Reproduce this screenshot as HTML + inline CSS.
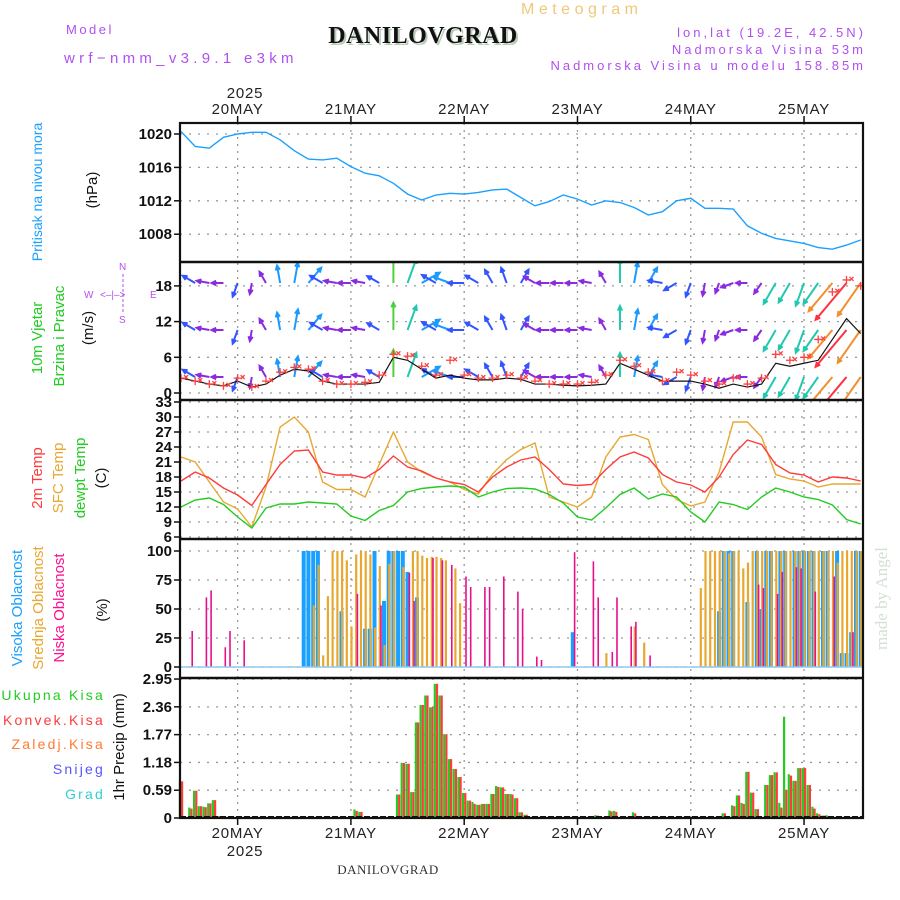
<!DOCTYPE html>
<html><head><meta charset="utf-8">
<style>
html,body{margin:0;padding:0;background:#fff;}
svg{display:block;font-family:"Liberation Sans",sans-serif;}
.tk{font-size:15px;font-weight:bold;fill:#111;text-anchor:end;}
.day{font-size:15px;fill:#222;text-anchor:middle;letter-spacing:0.8px;}
.pl{font-size:13px;fill:#b050f0;letter-spacing:3px;}
</style></head>
<body>
<svg id="chart" width="900" height="900" viewBox="0 0 900 900" xmlns="http://www.w3.org/2000/svg">
<defs>
<clipPath id="cw"><rect x="181" y="263" width="681" height="136"/></clipPath>
<clipPath id="cp"><rect x="181" y="124" width="681" height="137"/></clipPath>
</defs>
<text x="66" y="34" class="pl" style="font-size:13px;letter-spacing:2.5px">Model</text>
<text x="64" y="63" class="pl" style="font-size:15px;letter-spacing:4.3px">wrf−nmm_v3.9.1 e3km</text>
<text x="521" y="14" style="font-size:16px;fill:#f0c878;letter-spacing:4.5px">Meteogram</text>
<text x="425" y="45" text-anchor="middle" style="font-family:'Liberation Serif',serif;font-size:24px;font-weight:bold;fill:#b8ccb8;letter-spacing:0.5px">DANILOVGRAD</text>
<text x="423" y="43" text-anchor="middle" style="font-family:'Liberation Serif',serif;font-size:24px;font-weight:bold;fill:#111;letter-spacing:0.5px">DANILOVGRAD</text>
<text x="866" y="37" text-anchor="end" class="pl">lon,lat (19.2E, 42.5N)</text>
<text x="866" y="54" text-anchor="end" class="pl">Nadmorska Visina 53m</text>
<text x="866" y="70" text-anchor="end" class="pl">Nadmorska Visina u modelu 158.85m</text>
<text x="245" y="98" class="day">2025</text>
<text x="245" y="856" class="day">2025</text>
<text x="388" y="874" text-anchor="middle" style="font-family:'Liberation Serif',serif;font-size:13px;fill:#333;letter-spacing:0.5px">DANILOVGRAD</text>
<text transform="translate(887,650) rotate(-90)" style="font-family:'Liberation Serif',serif;font-size:17px;fill:#d4e0d4">made by Angel</text>

<text transform="translate(42,192) rotate(-90)" text-anchor="middle" style="font-size:14px;fill:#1aa0ff">Pritisak na nivou mora</text>
<text transform="translate(97,190) rotate(-90)" text-anchor="middle" style="font-size:15px;fill:#111">(hPa)</text>

<text transform="translate(42,338) rotate(-90)" text-anchor="middle" style="font-size:15px;fill:#22cc22">10m Vjetar</text>
<text transform="translate(64,336) rotate(-90)" text-anchor="middle" style="font-size:15px;fill:#22cc22">Brzina i Pravac</text>
<text transform="translate(93,328) rotate(-90)" text-anchor="middle" style="font-size:15px;fill:#111">(m/s)</text>
<g style="font-size:10px;fill:#b050f0">
<text x="119" y="270">N</text><text x="84" y="298">W</text><text x="100" y="298">&lt;–|–&gt;</text><text x="150" y="298">E</text><text x="119" y="323">S</text>
<line x1="123" y1="274" x2="123" y2="314" stroke="#b050f0" stroke-width="1" stroke-dasharray="3,2"/>
</g>

<text transform="translate(42,478) rotate(-90)" text-anchor="middle" style="font-size:15px;fill:#ff3b3b">2m Temp</text>
<text transform="translate(63,478) rotate(-90)" text-anchor="middle" style="font-size:15px;fill:#e8a830">SFC Temp</text>
<text transform="translate(85,478) rotate(-90)" text-anchor="middle" style="font-size:15px;fill:#22cc22">dewpt Temp</text>
<text transform="translate(106,478) rotate(-90)" text-anchor="middle" style="font-size:15px;fill:#111">(C)</text>

<text transform="translate(22,608) rotate(-90)" text-anchor="middle" style="font-size:15px;fill:#1aa0ff">Visoka Oblacnost</text>
<text transform="translate(43,608) rotate(-90)" text-anchor="middle" style="font-size:15px;fill:#e8a830">Srednja Oblacnost</text>
<text transform="translate(64,608) rotate(-90)" text-anchor="middle" style="font-size:15px;fill:#ff1090">Niska Oblacnost</text>
<text transform="translate(107,610) rotate(-90)" text-anchor="middle" style="font-size:15px;fill:#111">(%)</text>

<g style="font-size:14px;letter-spacing:2.2px" text-anchor="end">
<text x="105" y="700" fill="#22cc22">Ukupna Kisa</text>
<text x="105" y="725" fill="#ff3b3b">Konvek.Kisa</text>
<text x="105" y="749" fill="#ff7a30">Zaledj.Kisa</text>
<text x="105" y="774" fill="#5555ff">Snijeg</text>
<text x="105" y="799" fill="#30d0d0">Grad</text>
</g>
<text transform="translate(124,747) rotate(-90)" text-anchor="middle" style="font-size:15px;fill:#111">1hr Precip (mm)</text>

<g id="grid"></g>
<g id="marks"></g>
<g id="frame"></g>
</svg>
<script>
// ---------- data ----------
const dayLabels = ["20MAY","21MAY","22MAY","23MAY","24MAY","25MAY"];
const dayHours = [12,36,60,84,108,132];
const hours3 = [0,3,6,9,12,15,18,21,24,27,30,33,36,39,42,45,48,51,54,57,60,63,66,69,72,75,78,81,84,87,90,93,96,99,102,105,108,111,114,117,120,123,126,129,132,135,138,141,144];
const pressure = [1020.3,1018.5,1018.3,1019.6,1020,1020.2,1020.2,1019.3,1018,1017.0,1016.9,1017.1,1016.1,1015.3,1015,1014.1,1012.8,1012.1,1012.7,1012.9,1012.8,1013.0,1013.3,1013.4,1012.4,1011.4,1011.9,1012.7,1012.2,1011.5,1012.0,1011.8,1011.2,1010.3,1010.7,1012.0,1012.3,1011.1,1011.1,1011.0,1009.0,1008.1,1007.5,1007.2,1006.9,1006.4,1006.2,1006.7,1007.3];
const pressureTicks = [1008,1012,1016,1020];
const temp2m = [17.2,19,17.8,15.8,14.4,12.3,16.5,20.5,23.2,23.4,19,18.4,18.4,17.8,19.5,22.2,20,19.2,17.8,17,16.5,15,18,20,21.4,22,19.5,16.6,16.3,16.5,19.5,22,23,21.8,18.5,17,16.4,15,18,22.5,25.4,24.5,20.5,18.8,18.4,17,18,17.8,17.2];
const tempSfc = [22,21,17,13,11.6,8,16,28,30,27,17,15.5,15.5,14,20.5,27,21,19,17.8,17,15.5,14.6,18.6,21.5,23.5,24.8,14,13,12,14,22,26,26.5,25.5,16.5,13.5,12.2,13,19,29,29,26,18.5,17.6,17.2,16,16.6,16.6,16.6];
const dewpt = [12,13.4,13.8,12.5,10,7.8,11.8,12.6,12.6,13,12.8,12.6,10.2,9.3,11.3,12.3,15,15.7,16,16.2,16,14,15,15.7,15.8,15.6,14.5,12.8,10,9.4,11.8,14.5,15.8,13.6,14.6,14,11,9,13,12.5,11.5,14,15.8,15,14,13.5,12.4,9.5,8.6];
const tempTicks = [6,9,12,15,18,21,24,27,30,33];
const windSpeed = [2.5,2,1.5,1.2,2,1,1.5,3,4,3.7,2,1.5,1.5,1.5,1.8,6,5.5,4,2.5,3,2.5,2.2,2.2,2.5,2.3,1.5,1.5,1.3,1.2,1.3,1.5,5,4,3,2,2,2,1.5,0.8,1.5,1,1.5,5,4.5,5,5.5,9,12.5,10];
const windGust = [2.5,2,1.5,1.2,2.5,1,2,3.5,4.3,4,2,1.5,1.5,1.8,3,6.5,6.2,4.5,3,5.5,3,2.5,2.5,3,2.5,2,1.5,1.5,1.5,1.8,3,5.5,4.5,3.5,2,3.5,3,2,1.5,2.5,1.5,2.5,6.5,5.5,6,9,17,19,18];
const windDir = [315,300,280,270,200,190,330,350,10,40,300,280,270,280,300,0,20,60,300,290,270,300,330,340,30,300,270,270,270,280,330,0,10,30,280,240,200,190,200,250,270,215,210,210,200,215,220,220,215];
const windTicks = [0,6,12,18];
const cloudTicks = [0,25,50,75,100];
const highHours = [26,27,28,29,34,39,40,41,43,44,45,46,47,48,50,83,114,115,116,117,120,122,123,124,125,127,128,130,131,132,133,134,136,137,139,140,141,142,143,144];
const highVals = [100,100,100,100,48,33,33,100,57,100,100,100,100,82,60,30,48,100,100,100,56,100,50,100,100,100,100,100,100,100,100,100,100,100,100,12,12,30,100,100];
const midHours = [28,29,30,31,32,33,34,35,36,37,38,39,40,41,42,43,44,45,47,49,50,51,52,53,54,55,56,58,59,90,96,98,110,111,112,113,114,115,116,117,118,119,120,121,122,123,124,125,126,127,128,129,130,131,132,133,134,135,136,137,138,139,140,141,142,143,144];
const midVals = [53,88,10,61,100,100,100,92,35,97,100,100,97,34,87,19,89,100,86,100,100,96,94,95,95,94,92,85,55,12,35,21,68,100,100,100,100,100,98,100,100,85,90,100,100,100,100,100,100,100,100,100,100,100,100,100,100,100,100,100,100,90,100,100,100,100,100];
const lowHours = [2,5,6,9,10,13,37,42,48,49,53,55,57,60,61,64,65,68,71,72,75,76,83,87,88,91,92,95,96,99,122,123,126,127,130,131,134,138,142];
const lowVals = [31,60,66,17,31,23,63,53,81,57,94,92,88,78,69,69,69,78,65,50,9,6,99,91,60,13,60,35,39,10,71,68,63,82,86,85,65,78,30];
const precipHours = [0,2,3,4,5,6,7,8,36,37,38,46,47,48,49,50,51,52,53,54,55,56,57,58,59,60,61,62,63,64,65,66,67,68,69,70,71,72,73,74,88,91,92,95,96,98,115,117,118,119,120,121,122,123,124,125,126,127,128,129,130,131,132,133,134,135,136,137];
const precipTotal = [0.78,0.22,0.58,0.25,0.24,0.31,0.38,0.04,0.03,0.18,0.13,0.5,1.17,1.15,0.55,2.03,2.4,2.6,2.35,2.85,2.6,1.78,1.25,1.04,0.87,0.53,0.37,0.34,0.28,0.3,0.3,0.51,0.68,0.65,0.51,0.51,0.42,0.12,0.07,0.02,0.06,0.16,0.15,0.03,0.12,0.02,0.1,0.27,0.48,0.32,0.98,0.54,0.19,0.02,0.7,0.91,0.97,0.32,2.15,0.93,0.79,1.06,1.06,0.7,0.24,0.1,0.05,0.06];
const precipConv = [0.78,0.2,0.58,0.25,0.23,0.31,0.38,0.04,0.02,0.15,0.13,0.5,1.17,1.15,0.55,2.03,2.4,2.6,2.35,2.85,2.6,1.78,1.25,1.04,0.87,0.53,0.37,0.3,0.28,0.3,0.3,0.51,0.66,0.65,0.51,0.5,0.42,0.12,0.07,0.02,0.05,0.14,0.13,0.03,0.1,0.02,0.1,0.25,0.48,0.3,0.98,0.54,0.19,0.02,0.7,0.91,0.97,0.22,0.6,0.9,0.79,1.06,1.06,0.7,0.2,0.08,0.05,0.04];
const precipTicks = [0,0.59,1.18,1.77,2.36,2.95];

// ---------- axes ----------
const NS = "http://www.w3.org/2000/svg";
const X0 = 180, X1 = 863;
const xOf = h => 181 + h * 4.72;
const yP = p => 134 + (1020 - p) * 8.35;
const yW = s => 393 - s * 5.95;
const yT = t => 537 - (t - 6) * 5;
const yC = c => 667 - c * 1.16;
const yR = v => 818 - v * 47.1;
const panels = [[123,262],[262,400],[400,539],[539,678],[678,818]];

function el(tag, parent) { const e = document.createElementNS(NS, tag); parent.appendChild(e); return e; }
const grid = document.getElementById('grid');
const marks = document.getElementById('marks');
const frame = document.getElementById('frame');

function hgrid(y, name) {
  const l = el('line', grid);
  l.setAttribute('x1', X0); l.setAttribute('x2', X1); l.setAttribute('y1', y); l.setAttribute('y2', y);
  l.setAttribute('stroke', '#999'); l.setAttribute('stroke-width', '1.3'); l.setAttribute('stroke-dasharray', '2,7');
  
  
}
function tickLabel(y, txt, name) {
  const t = el('text', grid);
  t.setAttribute('x', 172); t.setAttribute('y', y + 5); t.setAttribute('class', 'tk'); t.textContent = txt;
  
  
  const k = el('line', grid);
  k.setAttribute('x1', 174); k.setAttribute('x2', 180); k.setAttribute('y1', y); k.setAttribute('y2', y); k.setAttribute('stroke', '#111'); k.setAttribute('stroke-width', '1.5');
  
  
}
pressureTicks.forEach(p => { hgrid(yP(p), 'pressure-gridline'); tickLabel(yP(p), String(p), 'pressure-tick-label'); });
windTicks.forEach(s => { hgrid(yW(s), 'wind-gridline'); tickLabel(yW(s), String(s), 'wind-tick-label'); });
tempTicks.forEach(t => { hgrid(yT(t), 'temp-gridline'); tickLabel(yT(t), String(t), 'temp-tick-label'); });
cloudTicks.forEach(c => { hgrid(yC(c), 'cloud-gridline'); tickLabel(yC(c), String(c), 'cloud-tick-label'); });
precipTicks.forEach(v => { hgrid(yR(v), 'precip-gridline'); tickLabel(yR(v), String(v), 'precip-tick-label'); });

dayHours.forEach((h, i) => {
  const x = xOf(h);
  const l = el('line', grid);
  l.setAttribute('x1', x); l.setAttribute('x2', x); l.setAttribute('y1', 123); l.setAttribute('y2', 818);
  l.setAttribute('stroke', '#999'); l.setAttribute('stroke-width', '1.3'); l.setAttribute('stroke-dasharray', '2,5');
  
  
  [[116,123],[818,825]].forEach(([a,b]) => {
    const k = el('line', grid);
    k.setAttribute('x1', x); k.setAttribute('x2', x); k.setAttribute('y1', a); k.setAttribute('y2', b); k.setAttribute('stroke', '#111'); k.setAttribute('stroke-width', '1.5');
    
    
  });
  const t1 = el('text', grid);
  t1.setAttribute('x', x); t1.setAttribute('y', 114); t1.setAttribute('class', 'day'); t1.textContent = dayLabels[i];
  
  
  const t2 = el('text', grid);
  t2.setAttribute('x', x); t2.setAttribute('y', 838); t2.setAttribute('class', 'day'); t2.textContent = dayLabels[i];
  
  
});

// frame
const fr = el('rect', frame);
fr.setAttribute('x', X0); fr.setAttribute('y', 123); fr.setAttribute('width', X1 - X0); fr.setAttribute('height', 695);
fr.setAttribute('fill', 'none'); fr.setAttribute('stroke', '#111'); fr.setAttribute('stroke-width', '2.2');


panels.slice(1).forEach(([top]) => {
  const l = el('line', frame);
  l.setAttribute('x1', X0); l.setAttribute('x2', X1); l.setAttribute('y1', top); l.setAttribute('y2', top);
  l.setAttribute('stroke', '#111'); l.setAttribute('stroke-width', '2.5');
  
  
});

function line(vals, yf, color, name, clip) {
  const pl = el('polyline', marks);
  pl.setAttribute('points', vals.map((v, i) => xOf(hours3[i]).toFixed(1) + ',' + yf(v).toFixed(1)).join(' '));
  pl.setAttribute('fill', 'none'); pl.setAttribute('stroke', color); pl.setAttribute('stroke-width', '1.4');
  if (clip) pl.setAttribute('clip-path', clip);
  
  
}
line(pressure, yP, '#1aa0ff', 'pressure-line', 'url(#cp)');
line(tempSfc, yT, '#e8a830', 'sfc-temp-line');
line(temp2m, yT, '#ff3b3b', 'temp-2m-line');
line(dewpt, yT, '#22cc22', 'dewpt-line');

// wind
const wg = el('g', marks);
wg.setAttribute('clip-path', 'url(#cw)');


function windColor(s) {
  if (s < 1.8) return '#8a2be2';
  if (s < 3) return '#3355ff';
  if (s < 4.5) return '#1a9aff';
  if (s < 6) return '#20c8b0';
  if (s < 8) return '#50d040';
  if (s < 11) return '#f09030';
  return '#ff3040';
}
const rows = [377, 330, 283];
rows.forEach(ry => {
  hours3.forEach((h, i) => {
    const s = windSpeed[i], d = windDir[i] * Math.PI / 180;
    const L = 8 + 3.2 * s;
    const x = xOf(h), x2 = x + L * Math.sin(d), y2 = ry - L * Math.cos(d);
    const a = el('path', wg);
    const hl = 5, ang = Math.atan2(y2 - ry, x2 - x);
    const p1x = x2 - hl * Math.cos(ang - 0.45), p1y = y2 - hl * Math.sin(ang - 0.45);
    const p2x = x2 - hl * Math.cos(ang + 0.45), p2y = y2 - hl * Math.sin(ang + 0.45);
    a.setAttribute('d', `M${x},${ry}L${x2},${y2}M${p1x},${p1y}L${x2},${y2}L${p2x},${p2y}`);
    a.setAttribute('stroke', windColor(s)); a.setAttribute('stroke-width', '2'); a.setAttribute('fill', 'none');
    
    
  });
});
const sp = el('polyline', wg);
sp.setAttribute('points', windSpeed.map((v, i) => xOf(hours3[i]) + ',' + yW(v)).join(' '));
sp.setAttribute('fill', 'none'); sp.setAttribute('stroke', '#111'); sp.setAttribute('stroke-width', '1.2');


windGust.forEach((g, i) => {
  const x = xOf(hours3[i]), y = yW(g);
  const c = el('path', wg);
  c.setAttribute('d', `M${x-4},${y}h8M${x},${y-4}v8M${x+3},${y-3}l4,4M${x+7},${y-3}l-4,4`);
  c.setAttribute('stroke', '#ff4040'); c.setAttribute('stroke-width', '1.3');
  
  
});

// clouds
function bars(hs, vals, yf, color, dx, w, name) {
  hs.forEach((h, i) => {
    const r = el('rect', marks);
    const y = yf(vals[i]);
    r.setAttribute('x', (xOf(h) + dx).toFixed(1)); r.setAttribute('y', y.toFixed(1));
    r.setAttribute('width', w); r.setAttribute('height', Math.max(0, yf(0) - y).toFixed(1));
    r.setAttribute('fill', color);
    
    
  });
}
bars(highHours, highVals, yC, '#1aa0ff', -2, 4, 'high-cloud-bar');
bars(midHours, midVals, yC, '#e8a830', -0.5, 2.2, 'mid-cloud-bar');
bars(lowHours, lowVals, yC, '#e8108a', 1, 1.6, 'low-cloud-bar');
const cb = el('line', marks);
cb.setAttribute('x1', X0); cb.setAttribute('x2', X1); cb.setAttribute('y1', yC(0)); cb.setAttribute('y2', yC(0));
cb.setAttribute('stroke', '#8fc8f0'); cb.setAttribute('stroke-width', '1.5');



// precip
bars(precipHours, precipTotal, yR, '#22cc22', -2.2, 2.2, 'precip-total-bar');
bars(precipHours, precipConv, yR, '#ff3b3b', 0, 2.2, 'precip-convective-bar');
const pb = el('line', marks);
pb.setAttribute('x1', X0); pb.setAttribute('x2', X1); pb.setAttribute('y1', 817); pb.setAttribute('y2', 817);
pb.setAttribute('stroke', '#111'); pb.setAttribute('stroke-width', '2'); pb.setAttribute('stroke-dasharray', '6,2');


</script>
</body></html>
